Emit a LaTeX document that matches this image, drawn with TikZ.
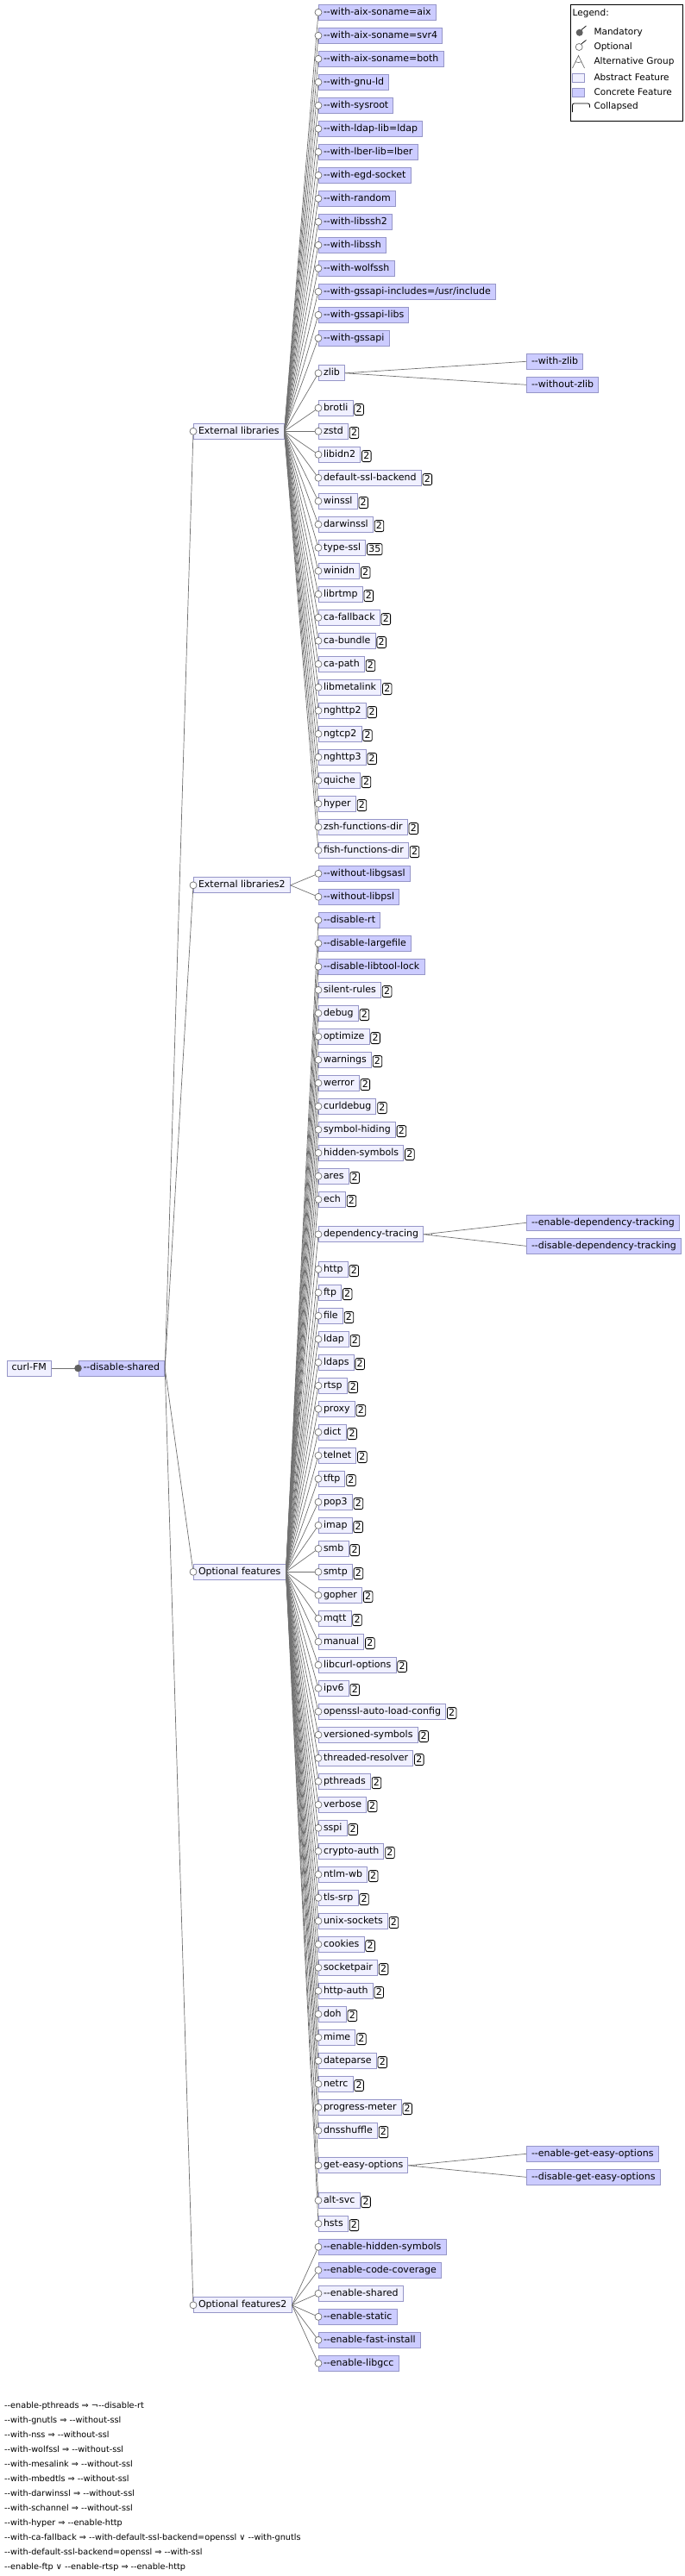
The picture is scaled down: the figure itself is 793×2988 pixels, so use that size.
\documentclass[tikz,border=0pt]{standalone}
\usepackage{fontspec}
\usepackage{tikz}
\usetikzlibrary{positioning}
\newfontfamily\fmfont{DejaVu Sans}
\definecolor{ConcFill}{HTML}{CCCCFF}
\definecolor{AbsFill}{HTML}{F0F0FF}
\definecolor{FeatLine}{HTML}{9696C8}
\definecolor{LinkGray}{HTML}{707070}
\definecolor{MandGray}{HTML}{606060}

\begin{document}
\begin{tikzpicture}[x=1pt, y=-1pt,
  every node/.style={font=\fmfont\fontsize{11}{13}\selectfont},
  feat/.style={draw=FeatLine, fill=AbsFill, anchor=west, inner xsep=5.6pt, inner ysep=0pt,
    minimum height=18pt, text height=8.2pt, text depth=2.4pt, line width=0.8pt},
  conc/.style={feat, fill=ConcFill},
  badge/.style={draw=black, fill=white, rounded corners=2pt, inner xsep=1.8pt, inner ysep=0pt,
    minimum height=13pt, text height=8.4pt, text depth=0.8pt, line width=0.8pt, yshift=-1.8pt},
  link/.style={draw=LinkGray, line width=0.7pt},
  optc/.style={draw=LinkGray, fill=white, line width=0.7pt},
  legtext/.style={anchor=west, inner sep=0pt, font=\fmfont\fontsize{10.5}{12}\selectfont},
  rule/.style={anchor=west, inner sep=0pt, font=\fmfont\fontsize{9.7}{11}\selectfont}]
  \useasboundingbox (0,0) rectangle (793,2988);

  % root and groups
  \node[feat] (curlfm) at (7.6,{14.3+27*58.25}) {curl-FM};
  \node[conc] (disshared) at (90.5,{14.3+27*58.25}) {--disable-shared};
  \node[feat] (extlib) at (224,{14.3+27*18}) {External libraries};
  \node[feat] (extlib2) at (224,{14.3+27*37.5}) {External libraries2};
  \node[feat] (optfeat) at (224,{14.3+27*67}) {Optional features};
  \node[feat] (optfeat2) at (224,{14.3+27*98.5}) {Optional features2};

  % concrete leaves
  \foreach \r/\t in {0/--with-aix-soname=aix, 1/--with-aix-soname=svr4, 2/--with-aix-soname=both,
      3/--with-gnu-ld, 4/--with-sysroot, 5/--with-ldap-lib=ldap, 6/--with-lber-lib=lber,
      7/--with-egd-socket, 8/--with-random, 9/--with-libssh2, 10/--with-libssh, 11/--with-wolfssh,
      12/{--with-gssapi-includes=/usr/include}, 13/--with-gssapi-libs, 14/--with-gssapi,
      37/--without-libgsasl, 38/--without-libpsl, 39/--disable-rt, 40/--disable-largefile,
      41/--disable-libtool-lock, 96/--enable-hidden-symbols, 97/--enable-code-coverage,
      99/--enable-static, 100/--enable-fast-install, 101/--enable-libgcc}
    \node[conc] (leaf\r) at (369,{14.3+27*\r}) {\t};

  % abstract leaves, collapsed (2)
  \foreach \r/\t in {17/brotli, 18/zstd, 19/libidn2, 20/default-ssl-backend, 21/winssl, 22/darwinssl,
      24/winidn, 25/librtmp, 26/ca-fallback, 27/ca-bundle, 28/ca-path, 29/libmetalink, 30/nghttp2,
      31/ngtcp2, 32/nghttp3, 33/quiche, 34/hyper, 35/zsh-functions-dir, 36/fish-functions-dir,
      42/silent-rules, 43/debug, 44/optimize, 45/warnings, 46/werror, 47/curldebug, 48/symbol-hiding,
      49/hidden-symbols, 50/ares, 51/ech, 54/http, 55/ftp, 56/file, 57/ldap, 58/ldaps, 59/rtsp,
      60/proxy, 61/dict, 62/telnet, 63/tftp, 64/pop3, 65/imap, 66/smb, 67/smtp, 68/gopher, 69/mqtt,
      70/manual, 71/libcurl-options, 72/ipv6, 73/openssl-auto-load-config, 74/versioned-symbols,
      75/threaded-resolver, 76/pthreads, 77/verbose, 78/sspi, 79/crypto-auth, 80/ntlm-wb, 81/tls-srp,
      82/unix-sockets, 83/cookies, 84/socketpair, 85/http-auth, 86/doh, 87/mime, 88/dateparse,
      89/netrc, 90/progress-meter, 91/dnsshuffle, 94/alt-svc, 95/hsts}{
    \node[feat] (leaf\r) at (369,{14.3+27*\r}) {\t};
    \node[badge, right=1pt of leaf\r] (cnt\r) {2};
  }
  \node[feat] (leaf23) at (369,{14.3+27*23}) {type-ssl};
  \node[badge, right=1pt of leaf23] (cnt23) {35};
  \node[feat] (leaf98) at (369,{14.3+27*98}) {--enable-shared};

  % abstract leaves with alternative children
  \node[feat] (leaf15) at (369,{14.3+27*15.5}) {zlib};
  \node[feat] (leaf52) at (369,{14.3+27*52.5}) {dependency-tracing};
  \node[feat] (leaf92) at (369,{14.3+27*92.5}) {get-easy-options};
  \foreach \r/\t in {15/--with-zlib, 16/--without-zlib, 52/--enable-dependency-tracking,
      53/--disable-dependency-tracking, 92/--enable-get-easy-options, 93/--disable-get-easy-options}
    \node[conc] (alt\r) at (610,{14.3+27*\r}) {\t};

  % connectors
  \draw[link] (curlfm) -- (disshared.west);
  \foreach \g in {extlib,extlib2,optfeat,optfeat2}
    \draw[link] (disshared.east) -- (\g.west);
  \foreach \r in {0,...,15} \draw[link] (extlib.east) -- (leaf\r.west);
  \foreach \r in {17,...,36} \draw[link] (extlib.east) -- (leaf\r.west);
  \foreach \r in {37,38} \draw[link] (extlib2.east) -- (leaf\r.west);
  \foreach \r in {39,...,52} \draw[link] (optfeat.east) -- (leaf\r.west);
  \foreach \r in {54,...,92} \draw[link] (optfeat.east) -- (leaf\r.west);
  \foreach \r in {94,95} \draw[link] (optfeat.east) -- (leaf\r.west);
  \foreach \r in {96,...,101} \draw[link] (optfeat2.east) -- (leaf\r.west);
  \foreach \p/\a/\b/\ang in {15/15/16/4, 52/52/53/6.5, 92/92/93/5.7}{
    \draw[link] (leaf\p.east) -- (alt\a.west);
    \draw[link] (leaf\p.east) -- (alt\b.west);
    \draw[link] ([shift={(\ang:9pt)}]leaf\p.east) arc[start angle=\ang, end angle=-\ang, radius=9pt];
  }

  % optional / mandatory circles
  \foreach \g in {extlib,extlib2,optfeat,optfeat2}
    \draw[optc] (\g.west) circle[radius=4pt];
  \foreach \r in {0,...,15} \draw[optc] (leaf\r.west) circle[radius=4pt];
  \foreach \r in {17,...,52} \draw[optc] (leaf\r.west) circle[radius=4pt];
  \foreach \r in {54,...,92} \draw[optc] (leaf\r.west) circle[radius=4pt];
  \foreach \r in {94,...,101} \draw[optc] (leaf\r.west) circle[radius=4pt];
  \draw[draw=MandGray, fill=MandGray] (disshared.west) circle[radius=4pt];

  % legend
  \draw[line width=0.8pt] (661,5) rectangle (791.5,140);
  \node[legtext] (legtitle) at (663.5,15.5) {Legend:};
  \fill[MandGray] (671.7,37.8) circle[radius=4pt];
  \draw[line width=0.7pt] (674,34.5) -- (679.5,30);
  \draw[optc] (671.2,54.5) circle[radius=4pt];
  \draw[line width=0.7pt] (673.5,51.2) -- (679.5,46.5);
  \draw[LinkGray, line width=0.7pt] (663.5,79) -- (670.5,64.5) -- (677.5,79);
  \draw[LinkGray, line width=0.7pt] ([shift={(-115:8pt)}]670.5,64.5) arc[start angle=-115, end angle=-65, radius=8pt];
  \draw[draw=FeatLine, fill=AbsFill, line width=0.8pt] (663.5,85) rectangle (677.5,95.5);
  \draw[draw=FeatLine, fill=ConcFill, line width=0.8pt] (663.5,102) rectangle (677.5,112.5);
  \draw[line width=0.8pt, rounded corners=2pt] (663.5,130) -- (663.5,120) -- (683.5,120) -- (683.5,124.5);
  \node[legtext] (legmand) at (688.3,38) {Mandatory};
  \node[legtext] (legopt) at (688.3,55) {Optional};
  \node[legtext] (legalt) at (688.3,72) {Alternative Group};
  \node[legtext] (legabs) at (688.3,89.3) {Abstract Feature};
  \node[legtext] (legconc) at (688.3,106.5) {Concrete Feature};
  \node[legtext] (legcoll) at (688.3,123.5) {Collapsed};

  % cross-tree constraints
  \foreach \k/\t in {0/{--enable-pthreads ⇒ ¬--disable-rt}, 1/{--with-gnutls ⇒ --without-ssl},
      2/{--with-nss ⇒ --without-ssl}, 3/{--with-wolfssl ⇒ --without-ssl},
      4/{--with-mesalink ⇒ --without-ssl}, 5/{--with-mbedtls ⇒ --without-ssl},
      6/{--with-darwinssl ⇒ --without-ssl}, 7/{--with-schannel ⇒ --without-ssl},
      8/{--with-hyper ⇒ --enable-http},
      9/{--with-ca-fallback ⇒ --with-default-ssl-backend=openssl ∨ --with-gnutls},
      10/{--with-default-ssl-backend=openssl ⇒ --with-ssl},
      11/{--enable-ftp ∨ --enable-rtsp ⇒ --enable-http}}
    \node[rule] (rule\k) at (5,{2790.3+17*\k}) {\t};
\end{tikzpicture}
\end{document}
